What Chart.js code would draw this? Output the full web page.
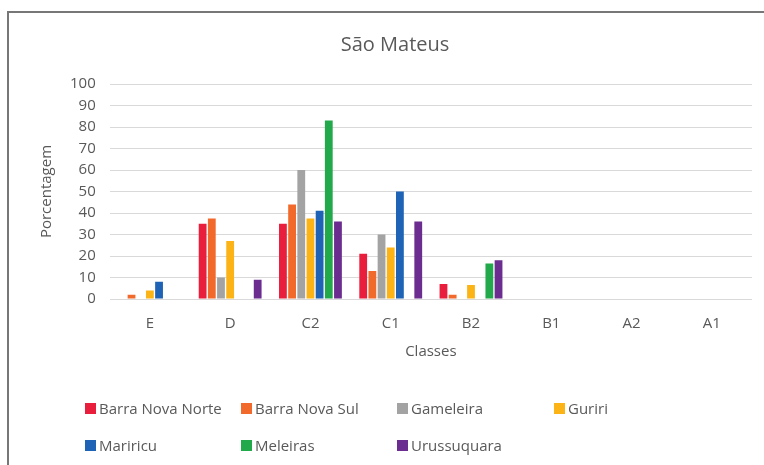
<!DOCTYPE html>
<html>
<head>
<meta charset="utf-8">
<script src="https://cdn.jsdelivr.net/npm/chart.js@4.4.1/dist/chart.umd.min.js"></script>
<style>
  html, body { margin: 0; padding: 0; background: #fff; overflow: hidden; }
  #wrap { position: relative; width: 764px; height: 465px; }
  #frame { position: absolute; left: 7px; top: 11px; width: 800px; height: 500px;
           border-left: 2px solid #777; border-top: 2px solid #777; }
  #legend { position: absolute; left: 85px; top: 396px; width: 640px;
            display: grid; grid-template-columns: 156px 156px 157px 150px; row-gap: 13px;
            font: 15px "Open Sans", sans-serif; color: #595959; }
  #legend span.item { display: flex; align-items: center; white-space: nowrap; height: 24px; }
  #legend span.box { width: 11px; height: 11px; margin-right: 3px; display: inline-block; }
</style>
</head>
<body>
<div id="wrap">
  <div id="frame"></div>
  <canvas id="chart" width="764" height="465"></canvas>
  <div id="legend"></div>
</div>
<script>
// categories (social classes)
const classes = ['E', 'D', 'C2', 'C1', 'B2', 'B1', 'A2', 'A1'];
const yTicks = [0, 10, 20, 30, 40, 50, 60, 70, 80, 90, 100];

// percentage per class, one list per locality
const barraNovaNorte = [0, 35, 35, 21, 7, 0, 0, 0];
const barraNovaSul   = [2, 37.5, 44, 13, 2, 0, 0, 0];
const gameleira      = [0, 10, 60, 30, 0, 0, 0, 0];
const guriri         = [4, 27, 37.5, 24, 6.5, 0, 0, 0];
const mariricu       = [8, 0, 41, 50, 0, 0, 0, 0];
const meleiras       = [0, 0, 83, 0, 16.5, 0, 0, 0];
const urussuquara    = [0, 9, 36, 36, 18, 0, 0, 0];

const names  = ['Barra Nova Norte', 'Barra Nova Sul', 'Gameleira', 'Guriri', 'Mariricu', 'Meleiras', 'Urussuquara'];
const series = [barraNovaNorte, barraNovaSul, gameleira, guriri, mariricu, meleiras, urussuquara];
const colors = ['#E81E3C', '#F26A2B', '#A3A3A3', '#FCB316', '#1E63B5', '#22A94B', '#6B2D8F'];

const ctx = document.getElementById('chart').getContext('2d');
Chart.defaults.font.family = '"Open Sans", sans-serif';
Chart.defaults.color = '#595959';

new Chart(ctx, {
  type: 'bar',
  data: {
    labels: classes,
    datasets: names.map((n, i) => ({
      label: n,
      data: series[i],
      backgroundColor: colors[i],
      borderWidth: 0,
      categoryPercentage: 0.8,
      barPercentage: 0.85
    }))
  },
  options: {
    responsive: false,
    animation: false,
    layout: { padding: { left: 38, right: 12, top: 33, bottom: 104 } },
    plugins: {
      legend: { display: false },
      tooltip: { enabled: false },
      title: {
        display: true,
        text: 'São Mateus',
        color: '#595959',
        font: { size: 20, weight: 'normal' },
        padding: { top: 0, bottom: 27 }
      }
    },
    scales: {
      x: {
        grid: { display: false },
        border: { display: false },
        ticks: { font: { size: 15 }, padding: 8 },
        title: { display: true, text: 'Classes', font: { size: 15 }, padding: { top: 2, bottom: 0 } }
      },
      y: {
        min: 0, max: 100,
        afterBuildTicks: axis => { axis.ticks = yTicks.map(v => ({ value: v })); },
        grid: { color: '#d9d9d9', drawTicks: false },
        border: { display: false },
        ticks: { font: { size: 15 }, padding: 14 },
        title: { display: true, text: 'Porcentagem', font: { size: 15 }, padding: { top: 0, bottom: 0 } }
      }
    }
  }
});

// legend laid out in columns like the original
const legend = document.getElementById('legend');
names.forEach((n, i) => {
  const item = document.createElement('span');
  item.className = 'item';
  item.innerHTML = '<span class="box" style="background:' + colors[i] + '"></span>' + n;
  legend.appendChild(item);
});
</script>
</body>
</html>
